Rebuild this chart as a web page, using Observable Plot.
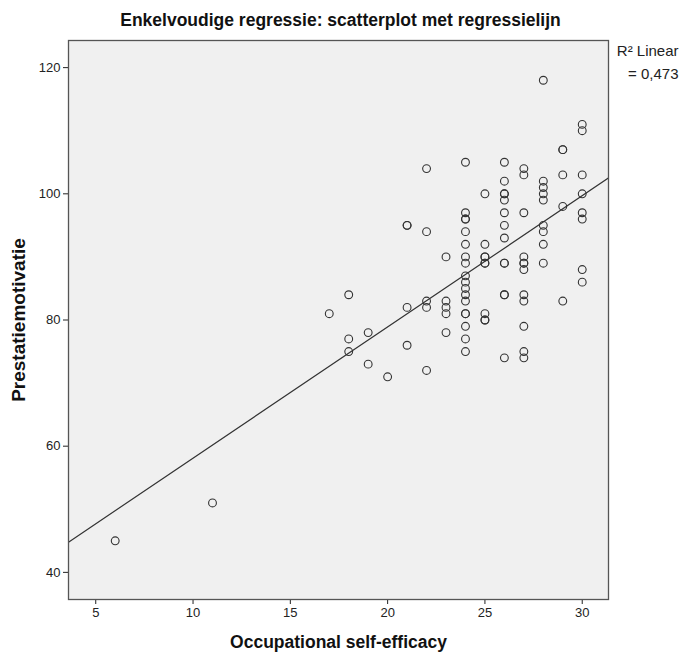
<!DOCTYPE html>
<html>
<head>
<meta charset="utf-8">
<script src="https://cdn.jsdelivr.net/npm/d3@7"></script>
<script src="https://cdn.jsdelivr.net/npm/@observablehq/plot@0.6"></script>
<style>
  body { margin: 0; background: #fff; font-family: "Liberation Sans", Arial, sans-serif; }
  #title { height: 30px; line-height: 40px; overflow: visible; text-align: center; font-weight: bold; font-size: 17.5px; color: #111; width: 681px; white-space: nowrap; }
</style>
</head>
<body>
<div id="title">Enkelvoudige regressie: scatterplot met regressielijn</div>
<div id="chart"></div>
<script>
// Occupational self-efficacy (x) and Prestatiemotivatie (y), read per column
const efficacy = [
  6, 11, 17,
  18, 18, 18,
  19, 19,
  20,
  21, 21, 21, 21,
  22, 22, 22, 22, 22,
  23, 23, 23, 23, 23,
  24, 24, 24, 24, 24, 24, 24, 24, 24, 24, 24, 24, 24, 24, 24, 24, 24, 24,
  25, 25, 25, 25, 25, 25, 25, 25, 25,
  26, 26, 26, 26, 26, 26, 26, 26, 26, 26, 26, 26, 26,
  27, 27, 27, 27, 27, 27, 27, 27, 27, 27, 27, 27,
  28, 28, 28, 28, 28, 28, 28, 28, 28,
  29, 29, 29, 29, 29,
  30, 30, 30, 30, 30, 30, 30, 30
];
const motivatie = [
  45, 51, 81,
  84, 77, 75,
  78, 73,
  71,
  95, 95, 82, 76,
  104, 94, 83, 82, 72,
  90, 83, 82, 81, 78,
  105, 97, 96, 96, 94, 92, 90, 89, 87, 86, 85, 84, 83, 81, 81, 79, 77, 75,
  100, 92, 90, 90, 89, 89, 81, 80, 80,
  105, 102, 100, 100, 99, 97, 95, 93, 89, 89, 84, 84, 74,
  104, 103, 97, 90, 89, 89, 88, 84, 83, 79, 75, 74,
  118, 102, 101, 100, 99, 95, 94, 92, 89,
  107, 107, 103, 98, 83,
  111, 110, 103, 100, 97, 96, 88, 86
];
const xTicks = [5, 10, 15, 20, 25, 30];
const yTicks = [40, 60, 80, 100, 120];
const xDomain = [3.6, 31.35];
const yDomain = [35.7, 124.3];
// fitted line
const intercept = 37.3;
const slope = 2.08;
const r2Label = "R² Linear\n= 0,473";
const xLabel = "Occupational self-efficacy";
const yLabel = "Prestatiemotivatie";

const points = efficacy.map((x, i) => ({x, y: motivatie[i]}));
const fitLine = xDomain.map(x => ({x, y: intercept + slope * x}));

const chart = Plot.plot({
  width: 681,
  height: 625,
  marginLeft: 68,
  marginRight: 73,
  marginTop: 10,
  marginBottom: 56,
  style: { fontFamily: "Liberation Sans, Arial, sans-serif", fontSize: "13px", color: "#222", background: "#fff" },
  x: { domain: xDomain },
  y: { domain: yDomain },
  marks: [
    Plot.frame({ fill: "#f0f0f0" }),
    Plot.axisX({ ticks: xTicks, tickSize: 5, tickPadding: 3, fontSize: 13, label: null }),
    Plot.axisY({ ticks: yTicks, tickSize: 5, tickPadding: 3, fontSize: 13, label: null }),
    Plot.text([xLabel], { frameAnchor: "bottom", dy: 48, textAnchor: "middle", fontWeight: "bold", fontSize: 17.5, fill: "#111" }),
    Plot.text([yLabel], { frameAnchor: "left", dx: -50, rotate: -90, textAnchor: "middle", fontWeight: "bold", fontSize: 19, fill: "#111" }),
    Plot.line(fitLine, { x: "x", y: "y", stroke: "#333", strokeWidth: 1.2, clip: true }),
    Plot.dot(points, { x: "x", y: "y", r: 3.9, stroke: "#333", strokeWidth: 1.1, fill: "none" }),
    Plot.frame({ stroke: "#555", strokeWidth: 1.3 }),
    Plot.text([r2Label], { frameAnchor: "top-right", dx: 70, dy: 0, textAnchor: "end", lineAnchor: "top", fontSize: 15, fill: "#222", lineHeight: 1.5 })
  ]
});
document.getElementById("chart").appendChild(chart);
</script>
</body>
</html>
